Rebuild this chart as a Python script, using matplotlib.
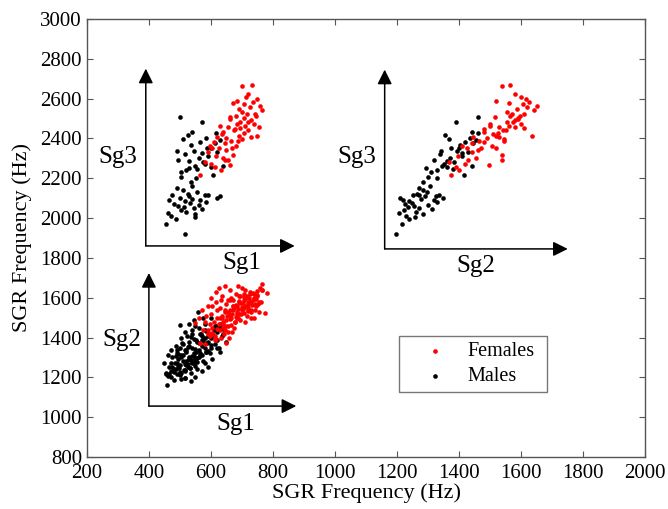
import matplotlib
matplotlib.use("Agg")
import numpy as np
import matplotlib.pyplot as plt

plt.rcParams["font.family"] = ["Liberation Serif", "DejaVu Serif"]

# speakers with all three subglottal resonances (Hz)
males_sg1 = [518, 454, 470, 462, 488, 505, 495, 520, 532, 545, 515, 550, 560, 540, 528, 572, 480, 500,
             525, 510, 555, 565, 475, 490, 538, 585, 548, 512, 466, 580, 591, 618, 629, 535, 502,
             520, 548, 505, 530, 560, 515, 545, 575, 590, 600, 535, 565, 510, 585, 620, 612, 555,
             525, 540, 580, 600, 570, 500, 570, 630, 495, 608, 640, 588, 552, 528, 615, 490]
males_sg2 = [1196, 1215, 1230, 1205, 1240, 1222, 1255, 1262, 1248, 1270, 1238, 1285, 1300, 1278, 1290,
             1312, 1225, 1210, 1265, 1282, 1295, 1320, 1250, 1272, 1305, 1330, 1258, 1235, 1218, 1270,
             1335, 1348, 1325, 1285, 1300,
             1330, 1345, 1310, 1360, 1372, 1338, 1392, 1385, 1410, 1398, 1402, 1420, 1368, 1435, 1428,
             1445, 1380, 1355, 1440, 1350, 1362, 1408, 1462, 1390, 1455, 1318, 1415, 1442, 1375, 1330,
             1292, 1460, 1340]
males_sg3 = [1918, 1970, 2010, 2025, 1995, 2040, 2060, 2030, 2075, 2050, 2085, 2020, 2065, 2095, 2110,
             2045, 2070, 2100, 2120, 2140, 2130, 2090, 2115, 2150, 2160, 2080, 2005, 2055, 2090, 2115,
             2116, 2103, 2110, 2180, 2205,
             2240, 2260, 2230, 2285, 2300, 2320, 2335, 2280, 2310, 2350, 2365, 2380, 2395, 2400, 2330,
             2375, 2245, 2415, 2430, 2270, 2255, 2325, 2509, 2484, 2390, 2290, 2218, 2262, 2352, 2200,
             2250, 2425, 2335]

females_sg1 = [565, 581, 634, 600, 615, 590, 640, 625, 655, 610, 660, 670, 645, 680, 650, 635, 665, 690,
               700, 675, 655, 685, 710, 695, 720, 705, 680, 730, 715, 740, 700, 690, 725, 745, 758, 747,
               735, 699, 731, 712, 750, 685, 670, 720, 640, 620, 605, 660, 695, 765, 650, 630, 705, 678,
               718, 688, 742, 662, 728, 596, 612, 668, 708, 755, 645]
females_sg2 = [1375, 1366, 1400, 1420, 1395, 1440, 1455, 1470, 1430, 1480, 1495, 1538, 1538, 1505, 1490,
               1510, 1465, 1520, 1545, 1550, 1530, 1500, 1560, 1575, 1540, 1590, 1565, 1580, 1610, 1600,
               1555, 1585, 1620, 1595, 1650, 1634, 1625, 1538, 1565, 1600, 1615, 1520, 1560, 1580, 1480,
               1445, 1425, 1515, 1610, 1640, 1460, 1500, 1525, 1480, 1555, 1545, 1570, 1590, 1530, 1410,
               1390, 1520, 1605, 1580, 1440]
females_sg3 = [2216, 2283, 2241, 2270, 2310, 2330, 2300, 2350, 2290, 2380, 2267, 2317, 2292, 2360, 2400,
               2420, 2385, 2410, 2395, 2440, 2455, 2470, 2460, 2480, 2440, 2500, 2510, 2490, 2520, 2470,
               2530, 2545, 2555, 2510, 2563, 2412, 2585, 2663, 2668, 2610, 2600, 2590, 2575, 2625, 2430,
               2405, 2350, 2505, 2450, 2540, 2340, 2460, 2425, 2445, 2480, 2385, 2520, 2495, 2405, 2360,
               2255, 2350, 2570, 2455, 2375]

# extra speakers with only Sg1 and Sg2 measured
males_sg1_extra = [459, 470, 480, 490, 500, 505, 515, 520, 525, 530, 535, 540, 545, 550, 555, 560, 565,
                   570, 575, 580, 585, 590, 595, 600, 610, 620, 630, 640, 650, 559, 575, 550, 540, 530,
                   520, 510, 500, 495, 485, 475, 465, 455, 448, 460, 470, 488, 505, 515, 528, 545, 560,
                   580, 600, 612, 625, 605, 590, 570, 550, 535, 515, 500, 482, 470, 492, 508, 522, 538,
                   552, 568, 582, 596, 612, 635, 518, 532, 544, 556, 498, 486]
males_sg2_extra = [1162, 1200, 1240, 1215, 1260, 1190, 1230, 1280, 1250, 1300, 1220, 1270, 1320, 1290,
                   1240, 1340, 1310, 1360, 1280, 1400, 1330, 1380, 1420, 1350, 1440, 1390, 1470, 1420,
                   1380, 1530, 1500, 1460, 1420, 1380, 1340, 1310, 1350, 1290, 1270, 1300, 1250, 1220,
                   1270, 1310, 1340, 1360, 1400, 1430, 1470, 1490, 1450, 1470, 1500, 1460, 1350, 1290,
                   1250, 1230, 1200, 1180, 1195, 1225, 1185, 1270, 1320, 1375, 1410, 1350, 1390, 1420,
                   1440, 1320, 1370, 1410, 1265, 1245, 1305, 1275, 1245, 1305]
females_sg1_extra = [548, 560, 570, 580, 590, 600, 605, 615, 620, 630, 635, 640, 645, 650, 655, 660, 665,
                     670, 675, 680, 685, 690, 695, 700, 705, 710, 715, 720, 725, 730, 735, 740, 745, 750,
                     755, 760, 763, 780, 774, 765, 642, 628, 612, 658, 668, 590, 575, 600, 615, 625, 645,
                     665, 688, 710, 725, 738, 698, 678, 662, 648, 632, 618, 602, 585, 598, 710, 728, 742,
                     752, 692, 672, 656, 684, 704, 718, 636, 652, 688, 706, 722]
females_sg2_extra = [1471, 1500, 1540, 1480, 1560, 1520, 1450, 1580, 1500, 1550, 1610, 1470, 1530, 1371,
                     1590, 1640, 1500, 1560, 1450, 1620, 1530, 1580, 1490, 1650, 1550, 1600, 1510, 1570,
                     1630, 1540, 1590, 1500, 1560, 1610, 1530, 1580, 1669, 1622, 1522, 1640, 1420, 1440,
                     1410, 1400, 1430, 1420, 1440, 1600, 1630, 1650, 1660, 1600, 1660, 1640, 1580, 1620,
                     1520, 1480, 1540, 1570, 1590, 1540, 1560, 1510, 1470, 1480, 1500, 1540, 1570, 1610,
                     1590, 1460, 1560, 1575, 1535, 1500, 1510, 1500, 1620, 1600]

fig = plt.figure(figsize=(6.68, 5.09), dpi=100)
ax = fig.add_axes([0.130, 0.102, 0.836, 0.861])

ms = 11
# Sg1 vs Sg3
ax.scatter(males_sg1, males_sg3, s=ms, c="black", linewidths=0)
ax.scatter(females_sg1, females_sg3, s=ms, c="red", linewidths=0)
# Sg2 vs Sg3
ax.scatter(males_sg2, males_sg3, s=ms, c="black", linewidths=0)
ax.scatter(females_sg2, females_sg3, s=ms, c="red", linewidths=0)
# Sg1 vs Sg2
ax.scatter(males_sg1 + males_sg1_extra, males_sg2 + males_sg2_extra, s=ms, c="black", linewidths=0)
ax.scatter(females_sg1 + females_sg1_extra, females_sg2 + females_sg2_extra, s=ms, c="red",
           linewidths=0)

# hand-drawn axis arrows for each sub plot
arrow_kw = dict(arrowstyle="-|>", color="black", lw=1.1, mutation_scale=22, shrinkA=0, shrinkB=0)
panels = [
    # origin, x end, y end, x label pos, y label pos, labels
    ((390, 1860), 870, 2750, (700, 1775), (300, 2305), ("Sg1", "Sg3")),
    ((1160, 1845), 1750, 2745, (1455, 1760), (1070, 2305), ("Sg2", "Sg3")),
    ((400, 1056), 875, 1724, (680, 968), (313, 1387), ("Sg1", "Sg2")),
]
for (x0, y0), xe, ye, xl, yl, (lx, ly) in panels:
    ax.annotate("", xy=(xe, y0), xytext=(x0, y0), arrowprops=arrow_kw)
    ax.annotate("", xy=(x0, ye), xytext=(x0, y0), arrowprops=arrow_kw)
    ax.text(xl[0], xl[1], lx, fontsize=18, ha="center", va="center")
    ax.text(yl[0], yl[1], ly, fontsize=18, ha="center", va="center")

# legend
h_f = ax.scatter([], [], s=ms, c="red", linewidths=0, label="Females")
h_m = ax.scatter([], [], s=ms, c="black", linewidths=0, label="Males")
leg = ax.legend(handles=[h_f, h_m], loc="lower left", bbox_to_anchor=(0.559, 0.148, 0.265, 0.137),
                mode="expand", fontsize=14.5, frameon=True, fancybox=False, borderaxespad=0,
                handlelength=3.0, handletextpad=0.1, borderpad=0.3, labelspacing=0.3,
                scatterpoints=1)
leg.get_frame().set_edgecolor("#555555")
leg.get_frame().set_linewidth(1.0)

ax.set_xlim(200, 2000)
ax.set_ylim(800, 3000)
ax.set_xticks(np.arange(200, 2001, 200))
ax.set_yticks(np.arange(800, 3001, 200))
ax.tick_params(direction="in", top=True, right=True, labelsize=15, length=4, color="#555555")
ax.tick_params(axis="x", pad=5)
for sp in ax.spines.values():
    sp.set_color("#555555")
    sp.set_linewidth(1.0)
ax.set_xlabel("SGR Frequency (Hz)", fontsize=16, labelpad=0)
ax.set_ylabel("SGR Frequency (Hz)", fontsize=16, labelpad=6)

fig.savefig("out.png", dpi=100)
